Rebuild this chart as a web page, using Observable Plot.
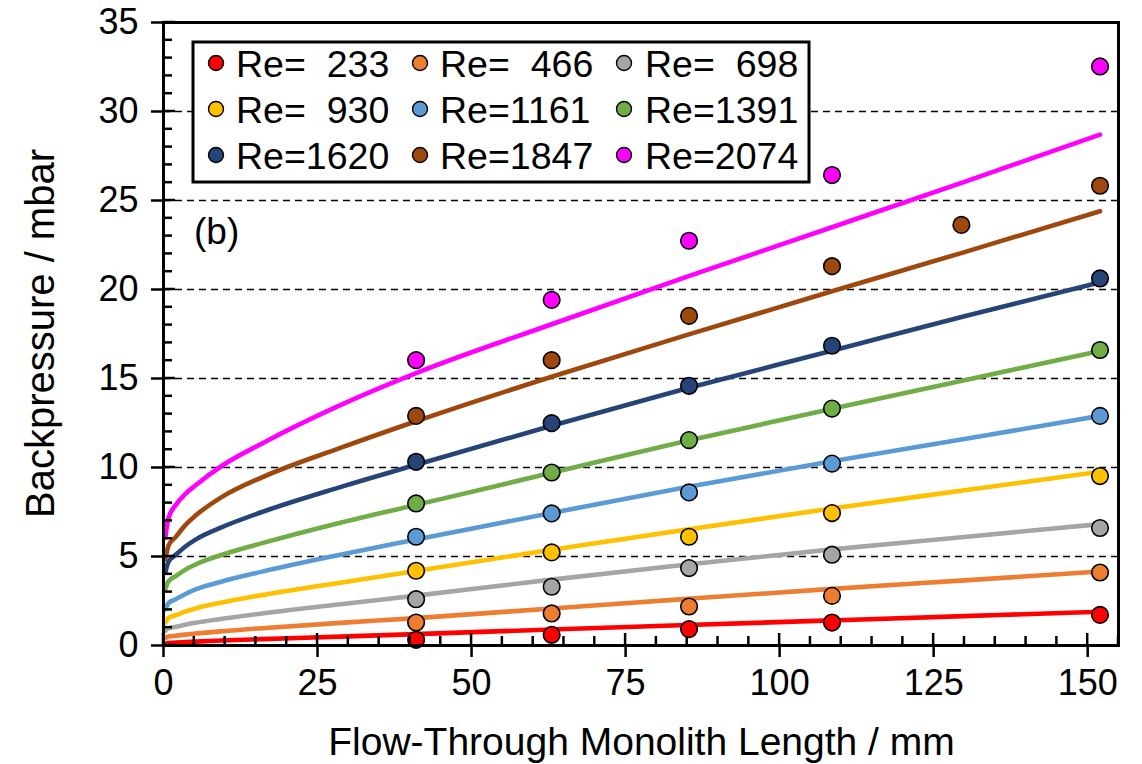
<!DOCTYPE html>
<html>
<head>
<meta charset="utf-8">
<script src="https://cdn.jsdelivr.net/npm/d3@7"></script>
<script src="https://cdn.jsdelivr.net/npm/@observablehq/plot@0.6"></script>
<style>
  body { margin: 0; background: #fff; }
  svg { font-family: "Liberation Sans", Arial, sans-serif; }
</style>
</head>
<body>
<div id="chart"></div>
<script>
// ---------- data ----------
const seriesNames = ["Re=  233", "Re=  466", "Re=  698", "Re=  930", "Re=1161", "Re=1391", "Re=1620", "Re=1847", "Re=2074"];
const seriesColors = ["#FF0000", "#ED7D31", "#A5A5A5", "#FFC000", "#5B9BD5", "#70AD47", "#264478", "#9E480E", "#FF00FF"];

// measured points (x = monolith length / mm, y = backpressure / mbar)
const pointLength = [41, 63, 85.3, 108.5, 152];
const pointLengthRe1847 = [41, 63, 85.3, 108.5, 129.5, 152];
const pointsRe233  = [0.32, 0.60, 0.92, 1.29, 1.72];
const pointsRe466  = [1.29, 1.80, 2.19, 2.79, 4.10];
const pointsRe698  = [2.60, 3.30, 4.35, 5.10, 6.60];
const pointsRe930  = [4.20, 5.23, 6.11, 7.44, 9.52];
const pointsRe1161 = [6.11, 7.42, 8.60, 10.22, 12.90];
const pointsRe1391 = [7.98, 9.72, 11.54, 13.31, 16.60];
const pointsRe1620 = [10.32, 12.49, 14.59, 16.84, 20.62];
const pointsRe1847 = [12.90, 16.03, 18.52, 21.31, 23.63, 25.83];
const pointsRe2074 = [16.03, 19.42, 22.74, 26.43, 32.53];

// fitted curves at these lengths
const fitLength = [0.3, 0.8, 2, 3.5, 5.2, 9.5, 16, 28.7, 41, 63, 85, 108.5, 130, 152];
const fitRe233  = [0.10, 0.14, 0.16, 0.19, 0.22, 0.28, 0.36, 0.50, 0.64, 0.90, 1.15, 1.41, 1.65, 1.90];
const fitRe466  = [0.42, 0.50, 0.55, 0.61, 0.67, 0.80, 0.97, 1.27, 1.54, 2.08, 2.62, 3.18, 3.66, 4.16];
const fitRe698  = [0.83, 0.96, 1.05, 1.17, 1.28, 1.50, 1.80, 2.32, 2.80, 3.70, 4.55, 5.40, 6.10, 6.82];
const fitRe930  = [1.29, 1.54, 1.70, 1.90, 2.08, 2.42, 2.83, 3.53, 4.18, 5.38, 6.52, 7.70, 8.72, 9.76];
const fitRe1161 = [2.04, 2.38, 2.60, 2.88, 3.15, 3.60, 4.15, 5.10, 5.95, 7.45, 8.90, 10.35, 11.60, 12.90];
const fitRe1391 = [3.17, 3.60, 3.90, 4.25, 4.55, 5.10, 5.75, 6.90, 7.90, 9.70, 11.50, 13.30, 14.90, 16.55];
const fitRe1620 = [4.10, 4.70, 5.10, 5.55, 5.95, 6.65, 7.50, 8.90, 10.15, 12.35, 14.45, 16.56, 18.50, 20.40];
const fitRe1847 = [4.85, 5.60, 6.10, 6.75, 7.30, 8.35, 9.45, 11.10, 12.60, 15.10, 17.45, 19.90, 22.10, 24.40];
const fitRe2074 = [6.07, 7.15, 7.90, 8.50, 9.00, 10.10, 11.35, 13.50, 15.30, 18.05, 20.72, 23.50, 26.05, 28.70];

const xTicks = [0, 25, 50, 75, 100, 125, 150];
const yTicks = [0, 5, 10, 15, 20, 25, 30, 35];
const gridValues = [5, 10, 15, 20, 25, 30];
const xTitle = "Flow-Through Monolith Length / mm";
const yTitle = "Backpressure / mbar";
const panelLabel = "(b)";

// ---------- tables ----------
const pointSets = [
  [pointLength, pointsRe233], [pointLength, pointsRe466], [pointLength, pointsRe698],
  [pointLength, pointsRe930], [pointLength, pointsRe1161], [pointLength, pointsRe1391],
  [pointLength, pointsRe1620], [pointLengthRe1847, pointsRe1847], [pointLength, pointsRe2074]
];
const fitSets = [fitRe233, fitRe466, fitRe698, fitRe930, fitRe1161, fitRe1391, fitRe1620, fitRe1847, fitRe2074];

const points = [];
pointSets.forEach(([xs, ys], i) => xs.forEach((x, j) => points.push({series: seriesNames[i], x, y: ys[j]})));
const fits = [];
fitSets.forEach((ys, i) => fitLength.forEach((x, j) => fits.push({series: seriesNames[i], x, y: ys[j]})));

// ---------- chart ----------
const W = 1142, H = 764;
const FS = 36;
const plot = Plot.plot({
  width: W,
  height: H,
  marginLeft: 163,
  marginRight: 24,
  marginTop: 22,
  marginBottom: 119,
  style: {fontFamily: "'Liberation Sans', Arial, sans-serif", fontSize: FS + "px", background: "white", color: "black"},
  x: {domain: [0, 155], axis: null},
  y: {domain: [0, 35], axis: null},
  color: {domain: seriesNames, range: seriesColors, type: "ordinal"},
  marks: [
    Plot.ruleY(gridValues, {stroke: "black", strokeWidth: 1.5, strokeDasharray: "7,5"}),
    Plot.line(fits, {x: "x", y: "y", z: "series", stroke: "series", strokeWidth: 4.6, curve: "monotone-x"}),
    Plot.dot(points, {x: "x", y: "y", fill: "series", stroke: "black", strokeWidth: 1.6, r: 8.3}),
    Plot.frame({stroke: "black", strokeWidth: 3}),
    Plot.axisX({ticks: xTicks, tickSize: 12, tickPadding: 12, fontSize: FS, strokeWidth: 2.5, label: null, tickFormat: d => String(d)}),
    Plot.axisY({ticks: yTicks, tickSize: 12, tickPadding: 13, fontSize: FS, strokeWidth: 2.5, label: null, tickFormat: d => String(d)})
  ]
});
document.getElementById("chart").appendChild(plot);

// ---------- inner ticks, titles, legend ----------
const sx = plot.scale("x"), sy = plot.scale("y");
const svg = d3.select(plot);
const x0 = sx.apply(0), y0 = sy.apply(0);
const tg = svg.append("g").attr("stroke", "black").attr("stroke-width", 2.5);
d3.range(0, 36, 1).forEach(v => {
  const y = sy.apply(v);
  tg.append("line").attr("x1", x0).attr("x2", x0 + (v % 5 === 0 ? 12 : 9)).attr("y1", y).attr("y2", y);
});
d3.range(0, 156, 5).forEach(v => {
  const x = sx.apply(v);
  tg.append("line").attr("x1", x).attr("x2", x).attr("y1", y0).attr("y2", y0 - (v % 25 === 0 ? 12 : 9));
});

svg.append("text")
  .attr("x", (sx.apply(0) + sx.apply(155)) / 2 + 1).attr("y", 755)
  .attr("text-anchor", "middle").attr("font-size", 39).attr("fill", "black")
  .text(xTitle);
svg.append("text")
  .attr("transform", `translate(54,${(sy.apply(0) + sy.apply(35)) / 2}) rotate(-90)`)
  .attr("text-anchor", "middle").attr("font-size", 40).attr("fill", "black")
  .text(yTitle);
svg.append("text")
  .attr("x", 194).attr("y", 244).attr("text-anchor", "start").attr("font-size", 37).attr("fill", "black")
  .text(panelLabel);

// legend
const lg = svg.append("g");
lg.append("rect").attr("x", 193).attr("y", 42).attr("width", 616).attr("height", 140)
  .attr("fill", "white").attr("stroke", "black").attr("stroke-width", 3);
const colMarker = [216, 420, 624], colText = [236, 440, 645], rowY = [63, 109, 155];
seriesNames.forEach((name, i) => {
  const r = Math.floor(i / 3), c = i % 3;
  lg.append("circle").attr("cx", colMarker[c]).attr("cy", rowY[r]).attr("r", 7.5)
    .attr("fill", seriesColors[i]).attr("stroke", "black").attr("stroke-width", 1.4);
  lg.append("text").attr("x", colText[c]).attr("y", rowY[r]).attr("dy", "0.36em")
    .attr("text-anchor", "start").attr("font-size", 37.5).attr("fill", "black")
    .attr("xml:space", "preserve").style("white-space", "pre")
    .text(name);
});
</script>
</body>
</html>
